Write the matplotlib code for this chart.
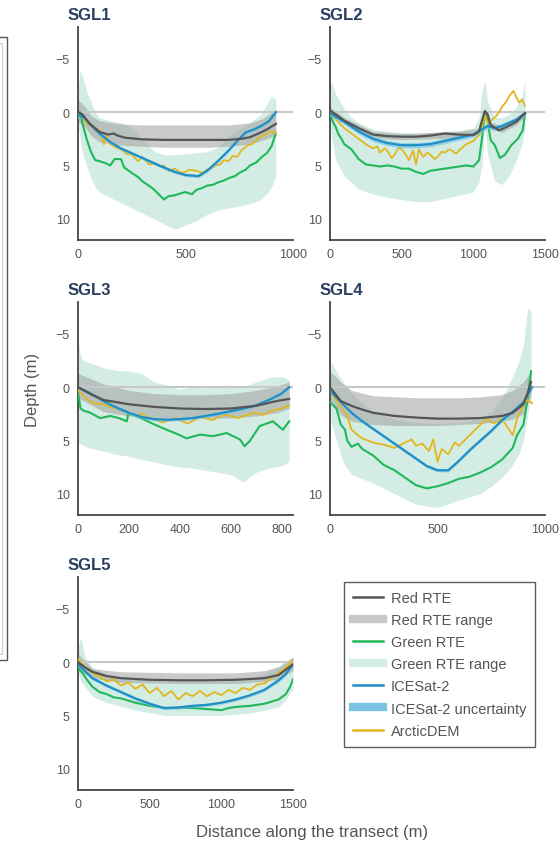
import numpy as np
import matplotlib.pyplot as plt
from matplotlib.lines import Line2D
from matplotlib.patches import Rectangle

plt.rcParams['font.family'] = ['Liberation Sans', 'DejaVu Sans']

# colours
RED_C = '#555555'
RED_RANGE_C = '#a0a0a0'
GREEN_C = '#1fb85a'
GREEN_RANGE_C = '#2ca87a'
ICE_C = '#1f8fc4'
ICE_UNC_C = '#7cc4e6'
DEM_C = '#e2b71e'
AXIS_C = '#444444'
TEXT_C = '#555555'
TITLE_C = '#2a3f5f'

# ---------------- SGL1 ----------------
SGL1_RED_X = [0, 20, 50, 100, 140, 165, 185, 220, 300, 400, 500, 600, 700, 760, 800, 840, 880, 920]
SGL1_RED = [0.0, 0.2, 1.0, 1.85, 2.1, 2.0, 2.2, 2.4, 2.55, 2.6, 2.6, 2.6, 2.6, 2.5, 2.35, 2.0, 1.6, 1.1]
SGL1_RR_X = [0, 30, 60, 100, 200, 300, 400, 500, 600, 700, 800, 860, 920]
SGL1_RR_TOP = [-1.2, -0.6, 0.3, 0.8, 1.1, 1.2, 1.2, 1.2, 1.2, 1.2, 1.0, 0.6, -0.3]
SGL1_RR_BOT = [0.9, 1.3, 2.2, 2.8, 3.1, 3.2, 3.3, 3.3, 3.3, 3.2, 3.0, 2.6, 2.2]
SGL1_GR_X = [0, 10, 20, 40, 60, 80, 100, 150, 200, 250, 300, 350, 400, 450, 500, 550, 600, 650, 700, 750, 800, 850, 880, 900, 920]
SGL1_GR_TOP = [-2.0, -3.9, -3.5, -2.0, -1.0, 0.0, 0.5, 0.8, 1.0, 1.5, 2.5, 3.6, 4.0, 4.0, 3.9, 3.8, 3.7, 3.3, 2.2, 1.6, 1.0, 0.2, -0.8, -1.5, -1.2]
SGL1_GR_BOT = [1.0, 2.5, 3.8, 5.0, 6.2, 7.0, 7.5, 8.0, 8.5, 9.0, 9.5, 10.0, 10.5, 11.0, 10.6, 10.2, 9.6, 9.2, 9.0, 8.8, 8.6, 8.2, 7.6, 7.0, 6.0]
SGL1_GREEN_X = [0, 10, 20, 40, 60, 80, 100, 130, 150, 170, 200, 215, 250, 280, 300, 330, 350, 380, 400, 420,
                450, 480, 500, 530, 550, 580, 600, 630, 650, 680, 700, 730, 750, 780, 800, 830, 850, 880, 900, 920]
SGL1_GREEN = [0.5, 0.0, 1.0, 2.5, 3.7, 4.5, 4.6, 4.8, 5.0, 4.4, 4.4, 5.2, 5.7, 6.1, 6.5, 6.9, 7.2, 7.8, 8.2, 7.9,
              7.8, 7.6, 7.5, 7.7, 7.3, 7.1, 6.9, 6.8, 6.6, 6.4, 6.2, 6.0, 5.7, 5.4, 5.0, 4.7, 4.3, 3.8, 3.2, 2.0]
SGL1_ICE_X = [0, 30, 60, 100, 150, 200, 300, 400, 450, 500, 560, 600, 650, 700, 750, 780, 820, 860, 890, 920]
SGL1_ICE = [0.3, 0.5, 1.2, 2.0, 2.8, 3.4, 4.3, 5.2, 5.6, 5.9, 6.0, 5.5, 4.6, 3.6, 2.5, 1.9, 1.6, 1.2, 0.8, 0.0]
SGL1_DEM_X = [0, 25, 50, 75, 90, 105, 120, 130, 150, 175, 200, 225, 250, 280, 300, 330, 360, 380, 400, 420, 450,
              480, 500, 520, 550, 580, 600, 620, 640, 660, 680, 700, 720, 740, 760, 790, 810, 840, 870, 900, 920]
SGL1_DEM = [0.2, 0.6, 1.2, 1.4, 1.6, 1.8, 3.0, 2.2, 3.0, 3.3, 3.5, 3.9, 4.0, 4.6, 4.2, 4.9, 4.8, 5.1, 5.0, 5.5, 5.3,
            5.7, 5.6, 5.4, 5.5, 5.7, 5.4, 5.3, 5.0, 4.9, 4.5, 4.6, 4.1, 4.2, 3.6, 3.1, 3.0, 2.4, 2.1, 1.8, 2.0]

# ---------------- SGL2 ----------------
SGL2_RED_X = [0, 50, 100, 200, 300, 400, 500, 600, 700, 800, 900, 1000, 1040, 1060, 1080, 1100, 1120, 1180, 1230, 1300, 1360]
SGL2_RED = [-0.15, 0.3, 0.8, 1.5, 2.1, 2.25, 2.3, 2.3, 2.2, 2.0, 2.1, 2.15, 1.8, 0.8, -0.1, 0.2, 1.2, 1.7, 1.4, 0.9, 0.1]
SGL2_RR_X = [0, 100, 300, 500, 700, 900, 1040, 1080, 1120, 1200, 1300, 1360]
SGL2_RR_TOP = [-0.5, 0.5, 1.8, 2.0, 1.9, 1.8, 1.5, -0.4, 0.9, 1.3, 0.6, -0.2]
SGL2_RR_BOT = [0.2, 1.1, 2.4, 2.6, 2.5, 2.4, 2.1, 0.3, 1.5, 1.9, 1.2, 0.4]
SGL2_GR_X = [0, 20, 40, 100, 150, 200, 300, 400, 500, 600, 700, 800, 900, 1000, 1040, 1060, 1080, 1100, 1150, 1200, 1250, 1300, 1340, 1360]
SGL2_GR_TOP = [-2.8, -2.5, -1.7, -0.3, 0.5, 1.0, 1.6, 1.8, 1.9, 2.0, 1.9, 1.8, 1.7, 1.5, 0.5, -2.0, -3.0, -1.0, 0.5, 0.5, 0.2, -0.5, -1.5, -3.0]
SGL2_GR_BOT = [1.5, 3.0, 4.5, 6.0, 6.6, 7.2, 7.7, 8.0, 8.2, 8.4, 8.4, 8.1, 7.8, 7.5, 6.5, 5.0, 1.5, 4.0, 6.5, 6.8, 6.0, 4.5, 3.0, 1.5]
SGL2_GREEN_X = [0, 20, 40, 60, 80, 100, 150, 200, 250, 300, 350, 400, 450, 500, 550, 600, 650, 700, 750, 800, 850, 900,
                950, 1000, 1040, 1060, 1080, 1100, 1120, 1150, 1185, 1220, 1265, 1310, 1345, 1360]
SGL2_GREEN = [0.1, 0.9, 1.4, 2.1, 2.5, 3.0, 3.5, 4.4, 4.9, 5.0, 5.1, 5.0, 5.1, 5.3, 5.3, 5.6, 5.8, 5.5, 5.4, 5.3, 5.2, 5.1,
              5.0, 5.1, 4.5, 2.5, 0.2, 0.8, 2.6, 3.1, 4.3, 4.0, 3.1, 2.5, 1.7, 0.2]
SGL2_ICE_X = [0, 100, 200, 300, 400, 500, 600, 700, 800, 900, 1000, 1050, 1100, 1150, 1200, 1300, 1360]
SGL2_ICE = [0.1, 0.9, 1.8, 2.5, 2.9, 3.1, 3.1, 3.0, 2.7, 2.4, 2.1, 1.7, 1.3, 1.5, 1.3, 0.7, 0.1]
SGL2_DEM_X = [0, 50, 100, 150, 200, 250, 300, 330, 350, 380, 400, 430, 450, 480, 500, 530, 550, 580, 600, 620, 650, 680,
              700, 730, 750, 780, 800, 830, 850, 880, 900, 950, 1000, 1050, 1080, 1100, 1120, 1150, 1180, 1200, 1230,
              1250, 1280, 1300, 1320, 1340, 1360]
SGL2_DEM = [0.1, 0.8, 1.5, 2.0, 2.5, 3.0, 3.4, 3.2, 3.8, 3.4, 3.6, 4.3, 4.0, 3.3, 3.5, 4.0, 4.5, 3.6, 4.9, 3.5, 4.2, 3.8,
            4.0, 4.4, 4.2, 3.7, 3.8, 3.5, 3.6, 3.9, 3.6, 3.0, 2.7, 2.0, 0.3, 1.0, 0.8, 0.5, 0.0, -0.5, -1.0,
            -1.5, -2.0, -1.4, -0.9, -1.2, -0.6]

# ---------------- SGL3 ----------------
SGL3_RED_X = [0, 50, 100, 200, 300, 400, 500, 600, 700, 780, 830]
SGL3_RED = [0.0, 0.65, 1.2, 1.6, 1.85, 2.0, 2.05, 2.0, 1.75, 1.3, 1.1]
SGL3_RR_X = [0, 100, 200, 300, 400, 500, 600, 700, 780, 830]
SGL3_RR_TOP = [-1.3, -0.3, 0.3, 0.6, 0.7, 0.7, 0.6, 0.3, -0.1, -0.5]
SGL3_RR_BOT = [1.0, 2.3, 2.7, 2.85, 2.9, 2.9, 2.9, 2.7, 2.4, 2.0]
SGL3_GR_X = [0, 10, 20, 60, 100, 150, 200, 250, 300, 350, 400, 450, 500, 550, 600, 650, 700, 750, 800, 830]
SGL3_GR_TOP = [-4.5, -3.0, -2.5, -2.2, -1.8, -1.6, -1.5, -1.3, -0.5, -0.2, 0.2, 0.0, -0.2, -0.1, -0.2, 0.0, -0.5, -0.9, -1.0, -0.7]
SGL3_GR_BOT = [5.2, 5.3, 5.5, 5.8, 6.0, 6.3, 6.5, 6.8, 7.0, 7.3, 7.5, 7.6, 7.8, 8.0, 8.2, 8.9, 8.0, 7.6, 7.4, 7.0]
SGL3_GREEN_X = [0, 10, 22, 48, 87, 127, 160, 192, 198, 257, 300, 349, 390, 427, 480, 531, 584, 636, 655, 675, 714, 766, 805, 830]
SGL3_GREEN = [0.5, 2.0, 2.2, 2.4, 2.9, 2.7, 2.9, 3.2, 2.45, 3.0, 3.5, 4.0, 4.4, 4.8, 4.45, 4.6, 4.3, 4.9, 5.55, 5.05, 3.65, 3.2, 4.0, 3.2]
SGL3_ICE_X = [0, 50, 100, 150, 200, 250, 300, 350, 400, 450, 500, 550, 600, 650, 700, 750, 800, 830]
SGL3_ICE = [0.0, 0.6, 1.3, 1.9, 2.4, 2.8, 3.0, 3.05, 3.0, 2.9, 2.7, 2.5, 2.25, 2.0, 1.7, 1.2, 0.6, 0.0]
SGL3_DEM_X = [0, 30, 60, 100, 130, 150, 180, 200, 230, 250, 280, 300, 330, 350, 380, 400, 430, 450, 480, 500, 530,
              550, 580, 600, 630, 650, 680, 700, 730, 750, 780, 800, 830]
SGL3_DEM = [0.3, 1.0, 1.5, 1.6, 1.9, 2.0, 2.3, 2.4, 2.7, 2.5, 2.9, 3.0, 3.3, 3.2, 2.9, 3.1, 3.4, 3.2, 2.8, 2.9, 3.1,
            2.8, 2.6, 2.7, 2.9, 2.7, 2.5, 2.4, 2.6, 2.3, 2.1, 2.0, 1.7]

# ---------------- SGL4 ----------------
SGL4_RED_X = [0, 50, 100, 150, 200, 300, 400, 500, 600, 700, 800, 850, 900, 920, 935]
SGL4_RED = [0.0, 1.3, 1.75, 2.1, 2.4, 2.7, 2.85, 2.95, 2.95, 2.9, 2.7, 2.4, 1.6, 0.5, -0.5]
SGL4_RR_X = [0, 50, 100, 200, 300, 400, 500, 600, 700, 800, 850, 900, 935]
SGL4_RR_TOP = [-1.5, -0.5, 0.3, 0.8, 0.9, 1.0, 1.0, 1.0, 0.9, 0.7, 0.3, -0.5, -1.5]
SGL4_RR_BOT = [1.2, 2.6, 3.2, 3.5, 3.6, 3.6, 3.6, 3.5, 3.4, 3.2, 3.0, 2.5, 0.8]
SGL4_GR_X = [0, 30, 60, 100, 150, 200, 300, 400, 500, 600, 700, 750, 800, 850, 880, 900, 920, 935]
SGL4_GR_TOP = [-2.5, -1.5, -0.5, 0.5, 1.5, 2.2, 3.0, 3.3, 3.4, 3.3, 3.0, 2.3, 1.0, -1.0, -2.5, -4.0, -7.5, -7.0]
SGL4_GR_BOT = [3.0, 5.0, 7.0, 8.2, 8.6, 9.0, 10.0, 11.0, 11.3, 10.6, 10.0, 9.3, 8.5, 7.3, 6.2, 5.0, 2.5, 1.0]
SGL4_GREEN_X = [0, 30, 50, 70, 80, 100, 130, 150, 200, 250, 300, 350, 400, 450, 500, 550, 600, 650, 700, 750, 800,
                850, 870, 900, 920, 935]
SGL4_GREEN = [1.4, 2.0, 3.5, 4.0, 5.0, 5.6, 5.3, 5.8, 6.4, 7.3, 7.8, 8.5, 9.2, 9.5, 9.3, 9.0, 8.6, 8.4, 8.0, 7.5, 6.8,
              5.7, 4.5, 3.5, 1.0, -1.5]
SGL4_ICE_X = [0, 50, 100, 150, 200, 250, 300, 350, 400, 450, 500, 550, 600, 650, 700, 750, 800, 850, 900, 940]
SGL4_ICE = [0.3, 1.4, 2.4, 3.2, 3.9, 4.6, 5.3, 6.0, 6.7, 7.4, 7.8, 7.8, 6.9, 5.9, 5.0, 4.1, 3.1, 2.3, 1.4, 0.0]
SGL4_DEM_X = [0, 50, 80, 100, 130, 150, 200, 250, 300, 350, 380, 400, 430, 460, 480, 500, 520, 550, 580, 600, 650,
              700, 730, 760, 800, 850, 870, 900, 920, 940]
SGL4_DEM = [0.3, 1.8, 2.7, 4.0, 4.5, 4.8, 5.2, 5.4, 5.7, 5.2, 4.9, 5.5, 5.3, 6.0, 4.9, 7.0, 5.8, 6.3, 5.2, 5.5, 4.5,
            3.5, 3.0, 3.4, 3.0, 4.5, 3.0, 1.6, 1.2, 1.5]

# ---------------- SGL5 ----------------
SGL5_RED_X = [0, 50, 100, 200, 300, 500, 700, 900, 1100, 1300, 1400, 1450, 1500]
SGL5_RED = [0.0, 0.5, 0.9, 1.3, 1.5, 1.65, 1.7, 1.7, 1.65, 1.5, 1.2, 0.7, 0.2]
SGL5_RR_X = [0, 100, 300, 700, 1100, 1300, 1400, 1500]
SGL5_RR_TOP = [-0.8, 0.6, 0.9, 1.0, 1.0, 0.8, 0.4, -0.5]
SGL5_RR_BOT = [0.8, 1.5, 1.9, 2.0, 2.0, 1.8, 1.6, 0.8]
SGL5_GR_X = [0, 20, 50, 100, 200, 400, 600, 800, 1000, 1200, 1400, 1450, 1500]
SGL5_GR_TOP = [-1.5, -2.3, -0.5, 0.5, 1.2, 1.6, 1.8, 1.8, 1.8, 1.6, 0.5, 0.0, -0.5]
SGL5_GR_BOT = [1.0, 1.8, 2.3, 3.2, 3.8, 4.5, 5.0, 5.0, 5.0, 4.8, 4.2, 3.5, 2.5]
SGL5_GREEN_X = [0, 30, 60, 100, 150, 200, 250, 300, 400, 500, 600, 700, 800, 900, 1000, 1050, 1100, 1200, 1300,
                1400, 1450, 1480, 1500]
SGL5_GREEN = [0.5, 1.0, 1.6, 2.3, 2.8, 3.0, 3.3, 3.4, 3.8, 4.1, 4.3, 4.3, 4.3, 4.4, 4.5, 4.3, 4.2, 4.1, 3.9,
              3.5, 3.0, 2.3, 1.6]
SGL5_ICE_X = [0, 100, 200, 300, 400, 500, 600, 700, 800, 900, 1000, 1100, 1200, 1300, 1400, 1450, 1500]
SGL5_ICE = [0.2, 1.5, 2.2, 2.8, 3.4, 3.9, 4.3, 4.25, 4.1, 4.0, 3.8, 3.5, 3.1, 2.6, 1.7, 1.1, 0.2]
SGL5_DEM_X = [0, 50, 100, 150, 200, 250, 300, 350, 400, 450, 500, 550, 600, 650, 700, 750, 800, 850, 900, 950, 1000,
              1050, 1100, 1150, 1200, 1250, 1300, 1350, 1400, 1450, 1500]
SGL5_DEM = [-0.3, 0.5, 1.0, 1.3, 1.8, 1.6, 2.2, 1.9, 2.5, 2.1, 2.9, 2.4, 3.2, 2.7, 3.5, 2.9, 3.2, 2.7, 3.2, 2.8, 3.1,
            2.6, 2.9, 2.4, 2.6, 2.1, 2.0, 1.5, 1.0, 0.5, -0.2]

# ICESat-2 uncertainty (m) per lake
ICE_UNC = [0.15, 0.25, 0.15, 0.15, 0.15]

LAKE_NAMES = ['SGL1', 'SGL2', 'SGL3', 'SGL4', 'SGL5']
X_MAX = [1000, 1500, 845, 1000, 1500]
X_TICKS = [[0, 500, 1000], [0, 500, 1000, 1500], [0, 200, 400, 600, 800], [0, 500, 1000], [0, 500, 1000, 1500]]
Y_TICKS = [-5, 0, 5, 10]

lakes = [
    (SGL1_RED_X, SGL1_RED, SGL1_RR_X, SGL1_RR_TOP, SGL1_RR_BOT, SGL1_GR_X, SGL1_GR_TOP, SGL1_GR_BOT,
     SGL1_GREEN_X, SGL1_GREEN, SGL1_ICE_X, SGL1_ICE, SGL1_DEM_X, SGL1_DEM),
    (SGL2_RED_X, SGL2_RED, SGL2_RR_X, SGL2_RR_TOP, SGL2_RR_BOT, SGL2_GR_X, SGL2_GR_TOP, SGL2_GR_BOT,
     SGL2_GREEN_X, SGL2_GREEN, SGL2_ICE_X, SGL2_ICE, SGL2_DEM_X, SGL2_DEM),
    (SGL3_RED_X, SGL3_RED, SGL3_RR_X, SGL3_RR_TOP, SGL3_RR_BOT, SGL3_GR_X, SGL3_GR_TOP, SGL3_GR_BOT,
     SGL3_GREEN_X, SGL3_GREEN, SGL3_ICE_X, SGL3_ICE, SGL3_DEM_X, SGL3_DEM),
    (SGL4_RED_X, SGL4_RED, SGL4_RR_X, SGL4_RR_TOP, SGL4_RR_BOT, SGL4_GR_X, SGL4_GR_TOP, SGL4_GR_BOT,
     SGL4_GREEN_X, SGL4_GREEN, SGL4_ICE_X, SGL4_ICE, SGL4_DEM_X, SGL4_DEM),
    (SGL5_RED_X, SGL5_RED, SGL5_RR_X, SGL5_RR_TOP, SGL5_RR_BOT, SGL5_GR_X, SGL5_GR_TOP, SGL5_GR_BOT,
     SGL5_GREEN_X, SGL5_GREEN, SGL5_ICE_X, SGL5_ICE, SGL5_DEM_X, SGL5_DEM),
]

# figure is laid out in pixels
W, H = 560, 845
fig = plt.figure(figsize=(W / 100, H / 100), dpi=100)


def px_rect(left, top, right, bottom):
    return [left / W, 1 - bottom / H, (right - left) / W, (bottom - top) / H]


col_left = [78, 330]
row_top = [28, 303, 578]
panel_w, panel_h = 215, 213

for i, (name, data) in enumerate(zip(LAKE_NAMES, lakes)):
    (red_x, red, rr_x, rr_top, rr_bot, gr_x, gr_top, gr_bot,
     green_x, green, ice_x, ice, dem_x, dem) = data
    l = col_left[i % 2]
    t = row_top[i // 2]
    ax = fig.add_axes(px_rect(l, t, l + panel_w, t + panel_h))

    ax.fill_between(gr_x, gr_top, gr_bot, color=GREEN_RANGE_C, alpha=0.2, lw=0, zorder=1)
    ax.fill_between(rr_x, rr_top, rr_bot, color=RED_RANGE_C, alpha=0.55, lw=0, zorder=2)
    ax.axhline(0, color='#c8c8c8', lw=1.5, zorder=2.5)
    ax.plot(green_x, green, color=GREEN_C, lw=1.5, zorder=3)
    ax.plot(dem_x, dem, color=DEM_C, lw=1.3, zorder=4)
    ice = np.array(ice)
    ax.fill_between(ice_x, ice - ICE_UNC[i], ice + ICE_UNC[i], color=ICE_UNC_C, alpha=0.7, lw=0, zorder=5)
    ax.plot(ice_x, ice, color=ICE_C, lw=1.6, zorder=6)
    ax.plot(red_x, red, color=RED_C, lw=1.6, zorder=7)

    ax.set_xlim(0, X_MAX[i])
    ax.set_ylim(12, -8)
    ax.set_xticks(X_TICKS[i])
    ax.set_yticks(Y_TICKS)
    ax.tick_params(length=0, labelsize=9, labelcolor=TEXT_C, pad=6)
    for side in ['top', 'right']:
        ax.spines[side].set_visible(False)
    for side in ['left', 'bottom']:
        ax.spines[side].set_color(AXIS_C)
        ax.spines[side].set_linewidth(1.3)

    fig.text((l - 10) / W, 1 - (t - 12) / H, name, fontsize=12, fontweight='bold',
             color=TITLE_C, ha='left', va='center')

fig.text(33 / W, 1 - 390 / H, 'Depth (m)', rotation=90, fontsize=12, color=TEXT_C,
         ha='center', va='center')
fig.text(312 / W, 1 - 833 / H, 'Distance along the transect (m)', fontsize=12, color=TEXT_C,
         ha='center', va='center')

# frame of the neighbouring panel, cut at the left edge
fig.add_artist(Rectangle((-10 / W, 1 - 661 / H), 17 / W, 623 / H, transform=fig.transFigure,
                         fill=False, edgecolor='#555555', lw=1.0))
fig.add_artist(Rectangle((-10 / W, 1 - 655 / H), 12 / W, 611 / H, transform=fig.transFigure,
                         fill=False, edgecolor='#cccccc', lw=0.8))

handles = [
    Line2D([], [], color=RED_C, lw=1.8),
    Line2D([], [], color='#c8c8c8', lw=6),
    Line2D([], [], color=GREEN_C, lw=1.8),
    Line2D([], [], color='#d5eee3', lw=6),
    Line2D([], [], color=ICE_C, lw=1.8),
    Line2D([], [], color=ICE_UNC_C, lw=6),
    Line2D([], [], color=DEM_C, lw=1.8),
]
labels = ['Red RTE', 'Red RTE range', 'Green RTE', 'Green RTE range', 'ICESat-2',
          'ICESat-2 uncertainty', 'ArcticDEM']
leg = fig.legend(handles, labels, loc='upper left', bbox_to_anchor=(344 / W, 1 - 583 / H),
                 borderaxespad=0, frameon=True, fancybox=False, fontsize=10.5,
                 handlelength=2.1, handletextpad=0.5, labelspacing=0.56, borderpad=0.6)
leg.get_frame().set_edgecolor('#333333')
leg.get_frame().set_linewidth(1.0)
for txt in leg.get_texts():
    txt.set_color(TEXT_C)

fig.savefig('out.png', dpi=100)
